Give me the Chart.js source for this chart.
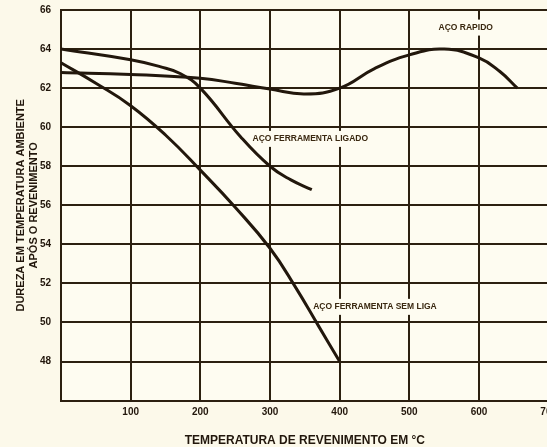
<!DOCTYPE html>
<html>
<head>
<meta charset="utf-8">
<script src="https://cdn.jsdelivr.net/npm/chart.js@4/dist/chart.umd.min.js"></script>
<style>
  html, body { margin: 0; padding: 0; background: #fcf9ea; overflow: hidden; }
  #wrap { width: 563px; height: 456px; position: relative; margin-top: -6px; }
</style>
</head>
<body>
<div id="wrap"><canvas id="c"></canvas></div>
<script>
// Temperatura de revenimento (°C) e dureza (HRC) de cada aço
const rapidoTemp = [0, 100, 200, 250, 300, 350, 400, 450, 500, 550, 600, 630, 655];
const rapidoHrc  = [62.8, 62.7, 62.5, 62.25, 61.95, 61.7, 62.0, 63.0, 63.7, 64.0, 63.55, 62.85, 62.0];

const ligadoTemp = [0, 100, 142, 171, 200, 258, 300, 330, 360];
const ligadoHrc  = [64.0, 63.45, 63.1, 62.75, 62.0, 59.5, 58.0, 57.3, 56.8];

const semLigaTemp = [0, 50, 100, 150, 200, 250, 300, 335, 370, 400];
const semLigaHrc  = [63.3, 62.25, 61.1, 59.6, 57.8, 55.9, 53.8, 51.9, 49.8, 48.0];

// Rótulos das curvas: texto e ponto de ancoragem (temperatura, dureza)
const curveNames  = ['AÇO RAPIDO', 'AÇO FERRAMENTA LIGADO', 'AÇO FERRAMENTA SEM LIGA'];
const curveLabelT = [542, 275, 362];
const curveLabelH = [65.1, 59.4, 50.8];

const xTicks = [0, 100, 200, 300, 400, 500, 600, 700];
const yTicks = [46, 48, 50, 52, 54, 56, 58, 60, 62, 64, 66];

const pts = (t, h) => t.map((v, i) => ({ x: v, y: h[i] }));

const ink = '#22170c';
const gridInk = '#2c2010';
const paper = '#fefcf1';
const font = '"Liberation Sans", Arial, sans-serif';

// Rótulos desenhados sobre a grade (com fundo) e sob as curvas
const curveLabels = {
  id: 'curveLabels',
  beforeDatasetsDraw(chart) {
    const { ctx, scales: { x, y } } = chart;
    ctx.save();
    ctx.font = 'bold 8.5px ' + font;
    ctx.textBaseline = 'middle';
    ctx.textAlign = 'left';
    curveNames.forEach((name, i) => {
      const px = x.getPixelForValue(curveLabelT[i]);
      const py = y.getPixelForValue(curveLabelH[i]);
      const w = ctx.measureText(name).width;
      ctx.fillStyle = paper;
      ctx.fillRect(px - 3, py - 8, w + 6, 16);
      ctx.fillStyle = '#3a2810';
      ctx.fillText(name, px, py);
    });
    ctx.restore();
  }
};

const plotBg = {
  id: 'plotBg',
  beforeDraw(chart) {
    const { ctx, chartArea: a } = chart;
    ctx.save();
    ctx.fillStyle = paper;
    ctx.fillRect(a.left, a.top, a.right - a.left, a.bottom - a.top);
    ctx.restore();
  }
};

const lineStyle = {
  borderColor: ink,
  borderWidth: 3,
  pointRadius: 0,
  fill: false,
  tension: 0.45
};

new Chart(document.getElementById('c'), {
  type: 'line',
  data: {
    datasets: [
      { label: curveNames[0], data: pts(rapidoTemp, rapidoHrc), ...lineStyle },
      { label: curveNames[1], data: pts(ligadoTemp, ligadoHrc), ...lineStyle },
      { label: curveNames[2], data: pts(semLigaTemp, semLigaHrc), ...lineStyle }
    ]
  },
  options: {
    responsive: true,
    maintainAspectRatio: false,
    animation: false,
    layout: { padding: { left: 11, top: 0, right: 0, bottom: 2 } },
    plugins: { legend: { display: false }, tooltip: { enabled: false } },
    scales: {
      x: {
        type: 'linear',
        min: 0, max: 700,
        afterBuildTicks: s => { s.ticks = xTicks.map(v => ({ value: v })); },
        ticks: {
          color: ink,
          padding: 6,
          font: { family: font, size: 10, weight: 'bold' },
          callback: v => (v === 0 ? '' : String(v))
        },
        grid: { color: gridInk, lineWidth: 2, drawTicks: false },
        border: { color: gridInk, width: 2 },
        title: {
          display: true,
          text: 'TEMPERATURA DE REVENIMENTO EM °C',
          color: ink,
          padding: { top: 9, bottom: 0 },
          font: { family: font, size: 12, weight: 'bold' }
        }
      },
      y: {
        min: 46, max: 66,
        afterBuildTicks: s => { s.ticks = yTicks.map(v => ({ value: v })); },
        afterFit: s => { s.width = 50; },
        ticks: {
          color: ink,
          padding: 10,
          font: { family: font, size: 10, weight: 'bold' },
          callback: v => (v === 46 ? '' : String(v))
        },
        grid: { color: gridInk, lineWidth: 2, drawTicks: false },
        border: { color: gridInk, width: 2 },
        title: {
          display: true,
          text: ['DUREZA EM TEMPERATURA AMBIENTE', 'APÓS O REVENIMENTO'],
          color: ink,
          padding: { top: 4, bottom: 4 },
          font: { family: font, size: 11, weight: 'bold', lineHeight: 1.15 }
        }
      }
    }
  },
  plugins: [plotBg, curveLabels]
});
</script>
</body>
</html>
